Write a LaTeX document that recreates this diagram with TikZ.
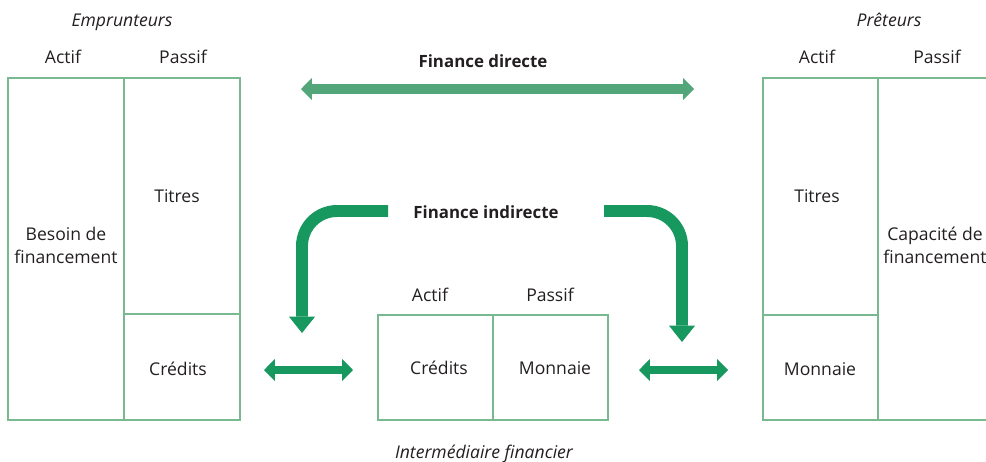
\documentclass[tikz,border=0pt]{standalone}
\usepackage{fontspec}
\setmainfont{Open Sans}
\usetikzlibrary{arrows.meta}
\definecolor{boxline}{HTML}{78B98F}
\definecolor{dgreen}{HTML}{17985F}
\definecolor{lgreen}{HTML}{52A679}
\definecolor{txt}{HTML}{231F20}
\begin{document}
\begin{tikzpicture}[x=0.02cm,y=-0.02cm,
  box/.style={draw=boxline, line width=0.7pt},
  lbl/.style={text=txt, font=\fontsize{10}{13}\selectfont, inner sep=0pt, anchor=base},
  ital/.style={lbl, font=\fontsize{10}{13}\selectfont\itshape},
  bold/.style={lbl, font=\fontsize{9.6}{13}\selectfont\bfseries},
  smalltip/.tip={Triangle[length=6.2pt,width=12.5pt,line width=0pt]},
  bigtip/.tip={Triangle[length=9.3pt,width=14.8pt,line width=0pt]},
  dirarrow/.style={draw=lgreen, line width=6.2pt, smalltip-smalltip},
  indarrow/.style={draw=dgreen, line width=6.8pt, -bigtip, rounded corners=0.7cm},
  dblarrow/.style={draw=dgreen, line width=5pt, smalltip-smalltip}]
\useasboundingbox (0,0) rectangle (986,461);
\clip (0,0) rectangle (986,461);

% Emprunteurs
\draw[box] (8,78) rectangle (240,420);
\draw[box] (124,78) -- (124,420);
\draw[box] (124,314) -- (240,314);
\node[ital] (empr) at (122,26) {Emprunteurs};
\node[lbl] (eact) at (63,63) {Actif};
\node[lbl] (epas) at (183,63) {Passif};
\node[lbl] (besoin1) at (66,240) {Besoin de};
\node[lbl] (besoin2) at (66,263) {financement};
\node[lbl] (etit) at (177,202) {Titres};
\node[lbl] (ecred) at (178,375) {Crédits};

% Intermediaire
\draw[box] (378,315) rectangle (608,420);
\draw[box] (493,315) -- (493,420);
\node[lbl] (iact) at (430,301) {Actif};
\node[lbl] (ipas) at (550,301) {Passif};
\node[lbl] (icred) at (439,374) {Crédits};
\node[lbl] (imon) at (555,374) {Monnaie};
\node[ital] (inter) at (484,458) {Intermédiaire financier};

% Preteurs
\draw[box] (995,78) -- (763,78) -- (763,420) -- (995,420);
\draw[box] (878,78) -- (878,420);
\draw[box] (763,315) -- (878,315);
\node[ital] (pret) at (889,26) {Prêteurs};
\node[lbl] (pact) at (817,63) {Actif};
\node[lbl] (ppas) at (937,63) {Passif};
\node[lbl] (ptit) at (817,202) {Titres};
\node[lbl] (pmon) at (820,375) {Monnaie};
\node[lbl] (cap1) at (935,240) {Capacité de};
\node[lbl] (cap2) at (935,263) {financement};

% Finance directe
\node[bold] (fd) at (483,67) {Finance directe};
\coordinate (fdL) at (301,89);
\coordinate (fdR) at (694,89);
\draw[dirarrow] (fdL) -- (fdR);

% Finance indirecte
\node[bold] (fi) at (486,218) {Finance indirecte};
\coordinate (fiLs) at (388,211);
\coordinate (fiLc) at (302,211);
\coordinate (fiLe) at (302,333);
\coordinate (fiRs) at (604,211);
\coordinate (fiRc) at (682,211);
\coordinate (fiRe) at (682,342);
\draw[indarrow] (fiLs) -- (fiLc) -- (fiLe);
\draw[indarrow] (fiRs) -- (fiRc) -- (fiRe);

% small double arrows
\coordinate (a1L) at (264,370);
\coordinate (a1R) at (353,370);
\coordinate (a2L) at (639,370);
\coordinate (a2R) at (728,370);
\draw[dblarrow] (a1L) -- (a1R);
\draw[dblarrow] (a2L) -- (a2R);
\end{tikzpicture}
\end{document}
